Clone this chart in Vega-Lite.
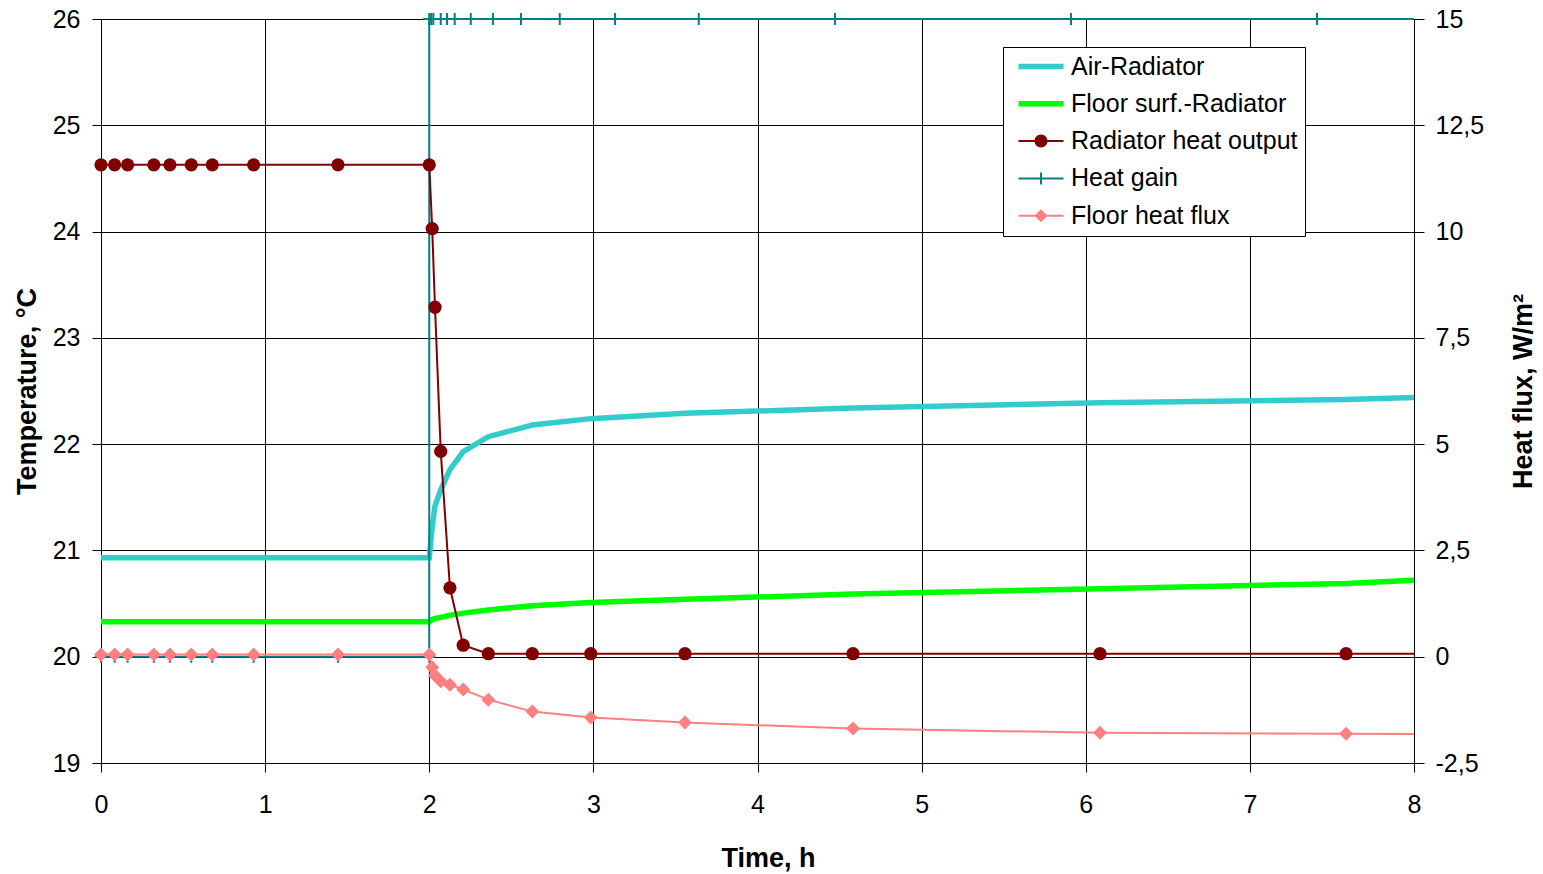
{
  "$schema": "https://vega.github.io/schema/vega-lite/v6.json",
  "width": 1313,
  "height": 744,
  "autosize": {"type": "none"},
  "padding": {"left": 101, "top": 19, "right": 129, "bottom": 111},
  "background": "white",
  "config": {
    "view": {"stroke": null},
    "font": "Liberation Sans",
    "axis": {
      "labelFont": "Liberation Sans",
      "titleFont": "Liberation Sans",
      "labelColor": "#000",
      "titleColor": "#000",
      "domainColor": "#000",
      "tickColor": "#000",
      "gridColor": "#000",
      "gridWidth": 1,
      "gridOpacity": 1,
      "labelFontSize": 25,
      "titleFontSize": 27,
      "titleFontWeight": "bold",
      "labelFlush": false,
      "labelOverlap": false
    }
  },
  "datasets": {
    "temp": [
      {"s": "Air-Radiator", "t": 0, "v": 20.93},
      {"s": "Air-Radiator", "t": 2.0, "v": 20.93},
      {"s": "Air-Radiator", "t": 2.018, "v": 21.22},
      {"s": "Air-Radiator", "t": 2.035, "v": 21.42},
      {"s": "Air-Radiator", "t": 2.07, "v": 21.57},
      {"s": "Air-Radiator", "t": 2.126, "v": 21.76},
      {"s": "Air-Radiator", "t": 2.207, "v": 21.93},
      {"s": "Air-Radiator", "t": 2.36, "v": 22.07},
      {"s": "Air-Radiator", "t": 2.628, "v": 22.18},
      {"s": "Air-Radiator", "t": 2.984, "v": 22.24},
      {"s": "Air-Radiator", "t": 3.558, "v": 22.29},
      {"s": "Air-Radiator", "t": 4.582, "v": 22.34},
      {"s": "Air-Radiator", "t": 6.087, "v": 22.39},
      {"s": "Air-Radiator", "t": 7.586, "v": 22.42},
      {"s": "Air-Radiator", "t": 8, "v": 22.44},
      {"s": "Floor surf.-Radiator", "t": 0, "v": 20.33},
      {"s": "Floor surf.-Radiator", "t": 2.0, "v": 20.33},
      {"s": "Floor surf.-Radiator", "t": 2.018, "v": 20.35},
      {"s": "Floor surf.-Radiator", "t": 2.035, "v": 20.36},
      {"s": "Floor surf.-Radiator", "t": 2.07, "v": 20.37},
      {"s": "Floor surf.-Radiator", "t": 2.126, "v": 20.39},
      {"s": "Floor surf.-Radiator", "t": 2.207, "v": 20.41},
      {"s": "Floor surf.-Radiator", "t": 2.36, "v": 20.44},
      {"s": "Floor surf.-Radiator", "t": 2.628, "v": 20.48},
      {"s": "Floor surf.-Radiator", "t": 2.984, "v": 20.51},
      {"s": "Floor surf.-Radiator", "t": 3.558, "v": 20.54},
      {"s": "Floor surf.-Radiator", "t": 4.582, "v": 20.59},
      {"s": "Floor surf.-Radiator", "t": 6.087, "v": 20.64},
      {"s": "Floor surf.-Radiator", "t": 7.586, "v": 20.69},
      {"s": "Floor surf.-Radiator", "t": 8, "v": 20.72}
    ],
    "flux": [
      {"s": "Heat gain", "t": 0, "v": 0},
      {"s": "Heat gain", "t": 0.083, "v": 0},
      {"s": "Heat gain", "t": 0.162, "v": 0},
      {"s": "Heat gain", "t": 0.322, "v": 0},
      {"s": "Heat gain", "t": 0.42, "v": 0},
      {"s": "Heat gain", "t": 0.55, "v": 0},
      {"s": "Heat gain", "t": 0.678, "v": 0},
      {"s": "Heat gain", "t": 0.93, "v": 0},
      {"s": "Heat gain", "t": 1.444, "v": 0},
      {"s": "Heat gain", "t": 2.0, "v": 0},
      {"s": "Heat gain", "t": 2.0, "v": 15},
      {"s": "Heat gain", "t": 2.012, "v": 15},
      {"s": "Heat gain", "t": 2.025, "v": 15},
      {"s": "Heat gain", "t": 2.07, "v": 15},
      {"s": "Heat gain", "t": 2.108, "v": 15},
      {"s": "Heat gain", "t": 2.155, "v": 15},
      {"s": "Heat gain", "t": 2.253, "v": 15},
      {"s": "Heat gain", "t": 2.388, "v": 15},
      {"s": "Heat gain", "t": 2.559, "v": 15},
      {"s": "Heat gain", "t": 2.795, "v": 15},
      {"s": "Heat gain", "t": 3.132, "v": 15},
      {"s": "Heat gain", "t": 3.642, "v": 15},
      {"s": "Heat gain", "t": 4.472, "v": 15},
      {"s": "Heat gain", "t": 5.91, "v": 15},
      {"s": "Heat gain", "t": 7.409, "v": 15},
      {"s": "Heat gain", "t": 8, "v": 15},
      {"s": "Radiator heat output", "t": 0, "v": 11.57},
      {"s": "Radiator heat output", "t": 0.083, "v": 11.57},
      {"s": "Radiator heat output", "t": 0.162, "v": 11.57},
      {"s": "Radiator heat output", "t": 0.322, "v": 11.57},
      {"s": "Radiator heat output", "t": 0.42, "v": 11.57},
      {"s": "Radiator heat output", "t": 0.55, "v": 11.57},
      {"s": "Radiator heat output", "t": 0.678, "v": 11.57},
      {"s": "Radiator heat output", "t": 0.93, "v": 11.57},
      {"s": "Radiator heat output", "t": 1.444, "v": 11.57},
      {"s": "Radiator heat output", "t": 2.0, "v": 11.57},
      {"s": "Radiator heat output", "t": 2.018, "v": 10.07},
      {"s": "Radiator heat output", "t": 2.035, "v": 8.22},
      {"s": "Radiator heat output", "t": 2.07, "v": 4.83},
      {"s": "Radiator heat output", "t": 2.126, "v": 1.62},
      {"s": "Radiator heat output", "t": 2.207, "v": 0.27},
      {"s": "Radiator heat output", "t": 2.36, "v": 0.07},
      {"s": "Radiator heat output", "t": 2.628, "v": 0.07},
      {"s": "Radiator heat output", "t": 2.984, "v": 0.07},
      {"s": "Radiator heat output", "t": 3.558, "v": 0.07},
      {"s": "Radiator heat output", "t": 4.582, "v": 0.07},
      {"s": "Radiator heat output", "t": 6.087, "v": 0.07},
      {"s": "Radiator heat output", "t": 7.586, "v": 0.07},
      {"s": "Radiator heat output", "t": 8, "v": 0.07},
      {"s": "Floor heat flux", "t": 0, "v": 0.05},
      {"s": "Floor heat flux", "t": 0.083, "v": 0.05},
      {"s": "Floor heat flux", "t": 0.162, "v": 0.05},
      {"s": "Floor heat flux", "t": 0.322, "v": 0.05},
      {"s": "Floor heat flux", "t": 0.42, "v": 0.05},
      {"s": "Floor heat flux", "t": 0.55, "v": 0.05},
      {"s": "Floor heat flux", "t": 0.678, "v": 0.05},
      {"s": "Floor heat flux", "t": 0.93, "v": 0.05},
      {"s": "Floor heat flux", "t": 1.444, "v": 0.05},
      {"s": "Floor heat flux", "t": 2.0, "v": 0.05},
      {"s": "Floor heat flux", "t": 2.018, "v": -0.25},
      {"s": "Floor heat flux", "t": 2.035, "v": -0.44},
      {"s": "Floor heat flux", "t": 2.07, "v": -0.58},
      {"s": "Floor heat flux", "t": 2.126, "v": -0.66},
      {"s": "Floor heat flux", "t": 2.207, "v": -0.77},
      {"s": "Floor heat flux", "t": 2.36, "v": -1.01},
      {"s": "Floor heat flux", "t": 2.628, "v": -1.29},
      {"s": "Floor heat flux", "t": 2.984, "v": -1.43},
      {"s": "Floor heat flux", "t": 3.558, "v": -1.55},
      {"s": "Floor heat flux", "t": 4.582, "v": -1.69},
      {"s": "Floor heat flux", "t": 6.087, "v": -1.79},
      {"s": "Floor heat flux", "t": 7.586, "v": -1.81},
      {"s": "Floor heat flux", "t": 8, "v": -1.82}
    ]
  },
  "encoding": {
    "x": {
      "field": "t",
      "type": "quantitative",
      "scale": {"domain": [0, 8], "nice": false, "zero": false},
      "axis": {
        "values": [0, 1, 2, 3, 4, 5, 6, 7, 8],
        "grid": true,
        "tickSize": 9,
        "labelPadding": 20,
        "title": "Time, h",
        "titleX": 667,
        "titlePadding": 28
      }
    }
  },
  "layer": [
    {
      "data": {"name": "temp"},
      "encoding": {
        "y": {
          "field": "v",
          "type": "quantitative",
          "scale": {"domain": [19, 26], "nice": false, "zero": false},
          "axis": {
            "orient": "left",
            "values": [19, 20, 21, 22, 23, 24, 25, 26],
            "grid": true,
            "tickSize": 9,
            "labelPadding": 12,
            "title": "Temperature, °C",
            "titlePadding": 11
          }
        },
        "order": {"value": null}
      },
      "layer": [
        {
          "transform": [{"filter": "datum.s === 'Air-Radiator'"}],
          "mark": {"type": "line", "color": "#33CCCC", "strokeWidth": 5.5}
        },
        {
          "transform": [{"filter": "datum.s === 'Floor surf.-Radiator'"}],
          "mark": {"type": "line", "color": "#00FF00", "strokeWidth": 5.5}
        }
      ]
    },
    {
      "data": {"name": "flux"},
      "encoding": {
        "y": {
          "field": "v",
          "type": "quantitative",
          "scale": {"domain": [-2.5, 15], "nice": false, "zero": false},
          "axis": {
            "orient": "right",
            "values": [-2.5, 0, 2.5, 5, 7.5, 10, 12.5, 15],
            "labelExpr": "replace(datum.value + '', '.', ',')",
            "grid": false,
            "tickSize": 10,
            "labelPadding": 11,
            "title": "Heat flux, W/m²",
            "titleAngle": 270,
            "titleBaseline": "top",
            "titlePadding": 27
          }
        }
      },
      "layer": [
        {
          "transform": [{"filter": "datum.s === 'Heat gain'"}],
          "mark": {"type": "line", "color": "#008080", "strokeWidth": 2},
          "encoding": {"order": {"value": null}}
        },
        {
          "transform": [{"filter": "datum.s === 'Heat gain' && datum.t < 8"}],
          "mark": {"type": "point", "shape": "M0,-1V1M-1,0H1", "filled": false, "stroke": "#008080", "strokeWidth": 2, "size": 144, "opacity": 1}
        },
        {
          "transform": [{"filter": "datum.s === 'Radiator heat output'"}],
          "mark": {"type": "line", "color": "#800000", "strokeWidth": 2},
          "encoding": {"order": {"value": null}}
        },
        {
          "transform": [{"filter": "datum.s === 'Radiator heat output' && datum.t < 8"}],
          "mark": {"type": "point", "shape": "circle", "filled": true, "color": "#800000", "size": 176, "opacity": 1}
        },
        {
          "transform": [{"filter": "datum.s === 'Floor heat flux'"}],
          "mark": {"type": "line", "color": "#FF8080", "strokeWidth": 2},
          "encoding": {"order": {"value": null}}
        },
        {
          "transform": [{"filter": "datum.s === 'Floor heat flux' && datum.t < 8"}],
          "mark": {"type": "point", "shape": "diamond", "filled": true, "color": "#FF8080", "size": 196, "opacity": 1}
        },
        {
          "transform": [{"filter": "false"}],
          "mark": {"type": "point", "filled": true, "opacity": 1, "strokeWidth": 0},
          "encoding": {
            "color": {
              "field": "s",
              "type": "nominal",
              "scale": {
                "domain": ["Air-Radiator", "Floor surf.-Radiator", "Radiator heat output", "Heat gain", "Floor heat flux"],
                "range": ["#33CCCC", "#00FF00", "#800000", "#008080", "#FF8080"]
              },
              "legend": {
                "orient": "none",
                "legendX": 902,
                "legendY": 28,
                "title": null,
                "symbolSize": 400,
                "symbolStrokeWidth": 0,
                "symbolOpacity": 1,
                "labelFontSize": 25,
                "labelFont": "Liberation Sans",
                "labelColor": "#000",
                "labelOffset": 36,
                "labelLimit": 0,
                "padding": 7,
                "rowPadding": 11.3,
                "strokeColor": "#000",
                "fillColor": "#fff",
                "cornerRadius": 0
              }
            },
            "shape": {
              "field": "s",
              "type": "nominal",
              "scale": {
                "domain": ["Air-Radiator", "Floor surf.-Radiator", "Radiator heat output", "Heat gain", "Floor heat flux"],
                "range": [
                  "M-0.4,-0.27H4.1V0.27H-0.4Z",
                  "M-0.4,-0.27H4.1V0.27H-0.4Z",
                  "M-0.4,-0.1H4.1V0.1H-0.4Z M1.2,0A0.65,0.65 0 1,1 2.5,0A0.65,0.65 0 1,1 1.2,0Z",
                  "M-0.4,-0.1H4.1V0.1H-0.4Z M1.75,-0.6H1.95V0.6H1.75Z",
                  "M-0.4,-0.1H4.1V0.1H-0.4Z M1.2,0L1.85,-0.65L2.5,0L1.85,0.65Z"
                ]
              },
              "legend": {
                "orient": "none",
                "legendX": 902,
                "legendY": 28,
                "title": null,
                "symbolSize": 400,
                "symbolStrokeWidth": 0,
                "symbolOpacity": 1,
                "labelFontSize": 25,
                "labelFont": "Liberation Sans",
                "labelColor": "#000",
                "labelOffset": 36,
                "labelLimit": 0,
                "padding": 7,
                "rowPadding": 11.3,
                "strokeColor": "#000",
                "fillColor": "#fff",
                "cornerRadius": 0
              }
            }
          }
        }
      ]
    }
  ],
  "resolve": {"scale": {"y": "independent"}}
}
